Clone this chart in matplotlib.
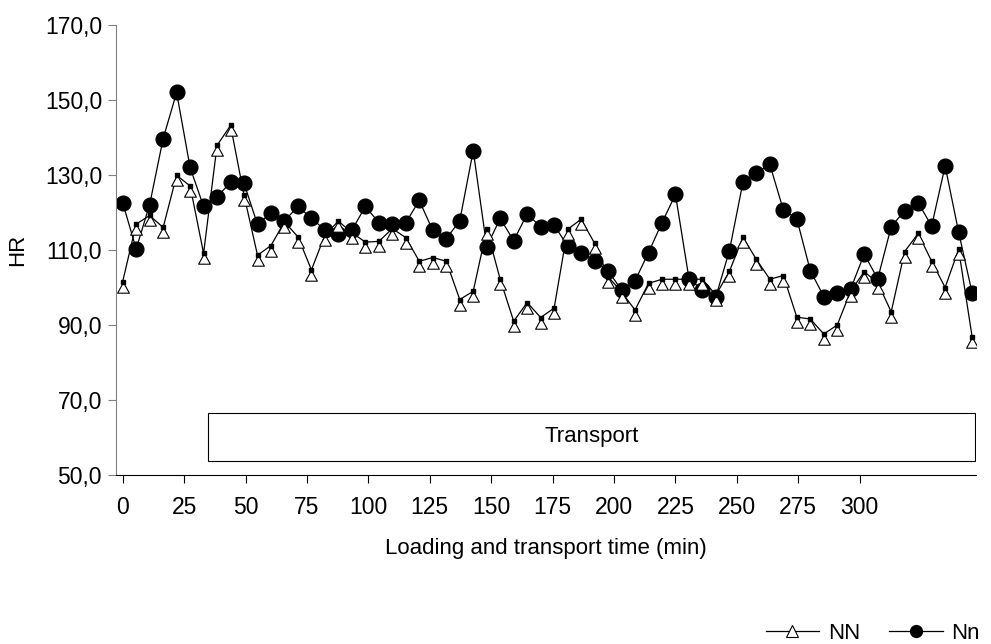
import matplotlib.pyplot as plt
import numpy as np
from matplotlib.path import Path
from matplotlib.patches import Rectangle
from matplotlib.lines import Line2D

plt.rcParams['font.family'] = 'Liberation Sans'
plt.rcParams['font.size'] = 16

# Data (HR per sample)
hr_nn = [101.6, 116.9, 119.2, 116.0, 129.9, 127.1, 109.1, 137.9, 143.2, 124.6,
         108.6, 111.2, 117.5, 113.5, 104.7, 114.0, 117.7, 114.6, 112.1, 112.3,
         115.7, 113.3, 107.0, 108.0, 107.0, 96.8, 99.0, 115.5, 102.2, 91.0,
         96.0, 92.0, 94.5, 115.5, 118.2, 111.8, 102.9, 98.8, 94.0, 101.1,
         102.2, 102.2, 102.2, 102.2, 98.0, 104.3, 113.4, 107.5, 102.2, 103.2,
         92.1, 91.6, 87.6, 90.0, 99.1, 104.2, 101.3, 93.5, 109.6, 114.4,
         107.0, 100.0, 110.2, 86.9]
hr_nn2 = [122.6, 110.3, 122.1, 139.7, 152.0, 132.0, 121.6, 124.2, 128.0, 127.8,
          116.8, 119.9, 117.8, 121.6, 118.5, 115.3, 114.3, 115.3, 121.6, 117.3,
          116.9, 117.3, 123.2, 115.2, 113.0, 117.8, 136.5, 110.9, 118.4, 112.5,
          119.6, 116.2, 116.6, 111.1, 109.3, 107.2, 104.5, 99.3, 101.8, 109.3,
          117.3, 124.8, 102.4, 99.3, 97.6, 109.8, 128.0, 130.6, 132.8, 120.7,
          118.3, 104.5, 97.6, 98.6, 99.7, 108.9, 102.3, 116.2, 120.5, 122.6,
          116.4, 132.4, 114.8, 98.6]
tick_minutes = [0, 25, 50, 75, 100, 125, 150, 175, 200, 225, 250, 275, 300]
min_per_sample = 5.488
y_ticks = [50, 70, 90, 110, 130, 150, 170]

x = np.arange(len(hr_nn))

# triangle whose apex sits on the data point
tri = Path([(0, 0), (-0.55, -1), (0.55, -1), (0, 0)],
           [Path.MOVETO, Path.LINETO, Path.LINETO, Path.CLOSEPOLY])

fig = plt.figure(figsize=(9.91, 6.44), dpi=100)
ax = fig.add_axes([0.117, 0.2624, 0.868, 0.6988])

ax.plot(x, hr_nn2, color='black', linewidth=0.9, marker='o', markersize=10.6,
        markerfacecolor='black', markeredgecolor='black', zorder=2)
ax.plot(x, hr_nn, color='black', linewidth=0.9, marker=tri, markersize=15.4,
        markerfacecolor='white', markeredgecolor='black', markeredgewidth=0.8,
        zorder=3)
ax.plot(x, hr_nn, linestyle='none', marker='s', markersize=2.2,
        color='black', zorder=4)

ax.add_patch(Rectangle((0.107, 0.031), 0.892, 0.107, transform=ax.transAxes,
                       facecolor='white', edgecolor='black', linewidth=0.8,
                       zorder=1))
ax.text(0.553, 0.0845, 'Transport', transform=ax.transAxes,
        ha='center', va='center', zorder=5)

ax.set_xlim(-0.5, 63.3)
ax.set_ylim(50, 170)
ax.set_yticks(y_ticks)
ax.set_yticklabels([f'{v:.1f}'.replace('.', ',') for v in y_ticks])
ax.set_xticks([m / min_per_sample for m in tick_minutes])
ax.set_xticklabels([str(m) for m in tick_minutes])

for s in ['top', 'right']:
    ax.spines[s].set_visible(False)
ax.spines['left'].set_color('#808080')
ax.spines['bottom'].set_color('black')
ax.tick_params(axis='y', direction='out', length=6, width=0.8, color='#808080',
               pad=4, labelsize=16.5)
ax.tick_params(axis='x', direction='out', length=6, width=0.8, color='black',
               pad=9, labelsize=16.5)

ax.set_ylabel('HR', labelpad=12)
ax.set_xlabel('Loading and transport time (min)', labelpad=14)

handles = [
    Line2D([], [], color='black', linewidth=0.9, marker='^', markersize=8,
           markerfacecolor='white', markeredgecolor='black', markeredgewidth=0.8),
    Line2D([], [], color='black', linewidth=0.9, marker='o', markersize=8.5,
           markerfacecolor='black'),
]
fig.legend(handles, ['NN', 'Nn'], loc='center right', bbox_to_anchor=(1.0, 0.017),
           ncol=2, frameon=False, handlelength=2.4, handletextpad=0.4,
           columnspacing=1.3, borderaxespad=0.1, fontsize=16)

fig.savefig('out.png', dpi=100)
